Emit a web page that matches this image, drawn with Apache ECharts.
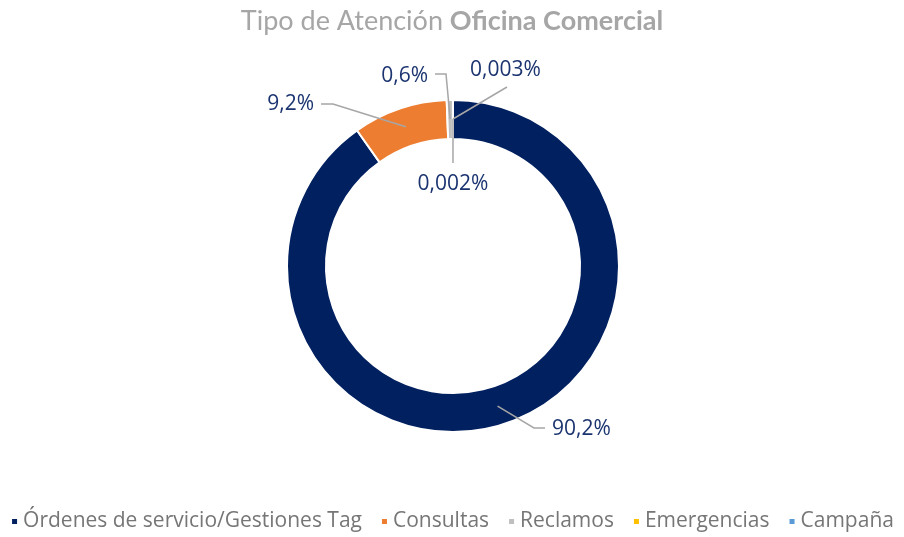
<!DOCTYPE html>
<html>
<head>
<meta charset="utf-8">
<script src="https://cdn.jsdelivr.net/npm/echarts@6/dist/echarts.min.js"></script>
<style>
html,body{margin:0;padding:0;background:#fff;}
#chart{width:904px;height:537px;}
</style>
</head>
<body>
<div id="chart"></div>
<script>
// ---- data ----
var categories = ['Órdenes de servicio/Gestiones Tag', 'Consultas', 'Reclamos', 'Emergencias', 'Campaña'];
var values = [90.2, 9.2, 0.6, 0.003, 0.002];
var labelTexts = ['90,2%', '9,2%', '0,6%', '0,003%', '0,002%'];

// ---- styles / layout ----
var colors = ['#002060', '#ED7D31', '#BFBFBF', '#FFC000', '#5B9BD5'];
var CX = 453, CY = 266, R_IN = 127, R_OUT = 166, R_ANCHOR = 147;
// label geometry relative to the chart centre: elbow, end, text pos, align
var labelGeom = [
  {elbow: [81, 162], end: [92, 162], text: [99, 163], align: 'left'},
  {elbow: [-120, -162], end: [-132, -162], text: [-139, -162], align: 'right'},
  {elbow: [-7, -192], end: [-18, -192], text: [-25, -190], align: 'right'},
  {elbow: [54, -179], end: [54, -179], text: [17, -196], align: 'left'},
  {elbow: [0, -103], end: [0, -103], text: [0, -82], align: 'center'}
];

var total = values.reduce(function (a, b) { return a + b; }, 0);
var midAngles = [];
(function () {
  var acc = 0;
  for (var i = 0; i < values.length; i++) {
    midAngles.push((acc + values[i] / 2) / total * 2 * Math.PI);
    acc += values[i];
  }
})();

var chart = echarts.init(document.getElementById('chart'));
var FONT = '"Open Sans", sans-serif';
var pieData = categories.map(function (c, i) { return {name: c, value: values[i]}; });

chart.setOption({
  animation: false,
  color: colors,
  title: {
    text: '{n|Tipo de Atención }{b|Oficina Comercial}',
    left: 'center',
    top: 3,
    textStyle: {
      rich: {
        n: {fontFamily: 'Lato, sans-serif', fontSize: 27, color: '#A6A6A6', fontWeight: 'normal'},
        b: {fontFamily: 'Lato, sans-serif', fontSize: 27, color: '#A6A6A6', fontWeight: 'bold'}
      }
    }
  },
  legend: {
    bottom: 0,
    left: 'center',
    icon: 'rect',
    itemWidth: 7,
    itemHeight: 7,
    itemGap: 18,
    textStyle: {fontFamily: FONT, fontSize: 21, color: '#767676'},
    data: categories
  },
  series: [{
    type: 'pie',
    center: [CX, CY],
    radius: [R_IN, R_OUT],
    startAngle: 90,
    clockwise: true,
    label: {show: false},
    labelLine: {show: false},
    itemStyle: {borderColor: '#fff', borderWidth: 2},
    emphasis: {disabled: true},
    data: pieData
  }, {
    type: 'pie',
    z: 5,
    silent: true,
    center: [CX, CY],
    radius: [R_IN, R_OUT],
    startAngle: 90,
    clockwise: true,
    avoidLabelOverlap: false,
    itemStyle: {color: 'rgba(0,0,0,0)', borderWidth: 0},
    label: {
      show: true,
      position: 'outside',
      fontFamily: FONT,
      fontSize: 21,
      color: '#1B3470',
      formatter: function (p) { return labelTexts[p.dataIndex]; }
    },
    labelLine: {show: true, lineStyle: {color: '#A6A6A6', width: 1.5}},
    labelLayout: function (p) {
      var i = p.dataIndex;
      var a = midAngles[i];
      var ax = CX + R_ANCHOR * Math.sin(a);
      var ay = CY - R_ANCHOR * Math.cos(a);
      var g = labelGeom[i];
      return {
        x: CX + g.text[0],
        y: CY + g.text[1],
        align: g.align,
        verticalAlign: 'middle',
        labelLinePoints: [[ax, ay], [CX + g.elbow[0], CY + g.elbow[1]], [CX + g.end[0], CY + g.end[1]]]
      };
    },
    emphasis: {disabled: true},
    data: pieData
  }]
});
</script>
</body>
</html>
